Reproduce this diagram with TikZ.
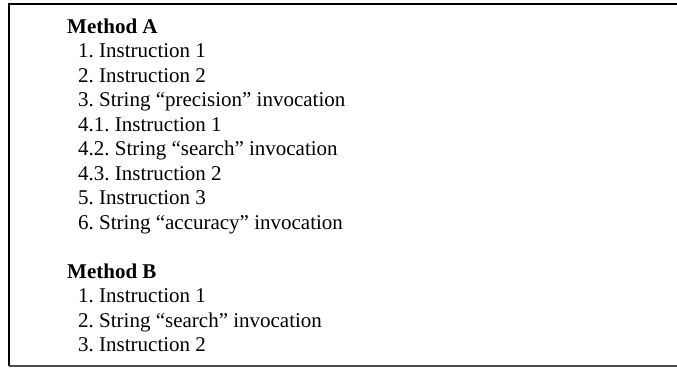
\documentclass[tikz,border=0pt]{standalone}
\usepackage{fontspec}
\setmainfont{Liberation Serif}
\frenchspacing
\begin{document}
\begin{tikzpicture}[x=1pt,y=1pt,
  txt/.style={anchor=base west, inner sep=0pt, font=\fontsize{21}{24}\selectfont\frenchspacing},
  head/.style={txt, font=\fontsize{21}{24}\selectfont\bfseries}]
\useasboundingbox (0,0) rectangle (677,368);
\draw[line width=2pt, black] (677,364) -- (9,364) -- (9,2);
\draw[line width=1.5pt, black!70] (9,2) -- (677,2);
\node[head] (ma) at (67,335) {Method A};
\node[txt] (a1) at (78,310.5) {1. Instruction 1};
\node[txt] (a2) at (78,286) {2. Instruction 2};
\node[txt] (a3) at (78,261.5) {3. String “precision” invocation};
\node[txt] (a41) at (78,237) {4.1. Instruction 1};
\node[txt] (a42) at (78,212.5) {4.2. String “search” invocation};
\node[txt] (a43) at (78,188) {4.3. Instruction 2};
\node[txt] (a5) at (78,163.5) {5. Instruction 3};
\node[txt] (a6) at (78,139) {6. String “accuracy” invocation};
\node[head] (mb) at (67,90) {Method B};
\node[txt] (b1) at (78,65.5) {1. Instruction 1};
\node[txt] (b2) at (78,41) {2. String “search” invocation};
\node[txt] (b3) at (78,16.5) {3. Instruction 2};
\end{tikzpicture}
\end{document}
